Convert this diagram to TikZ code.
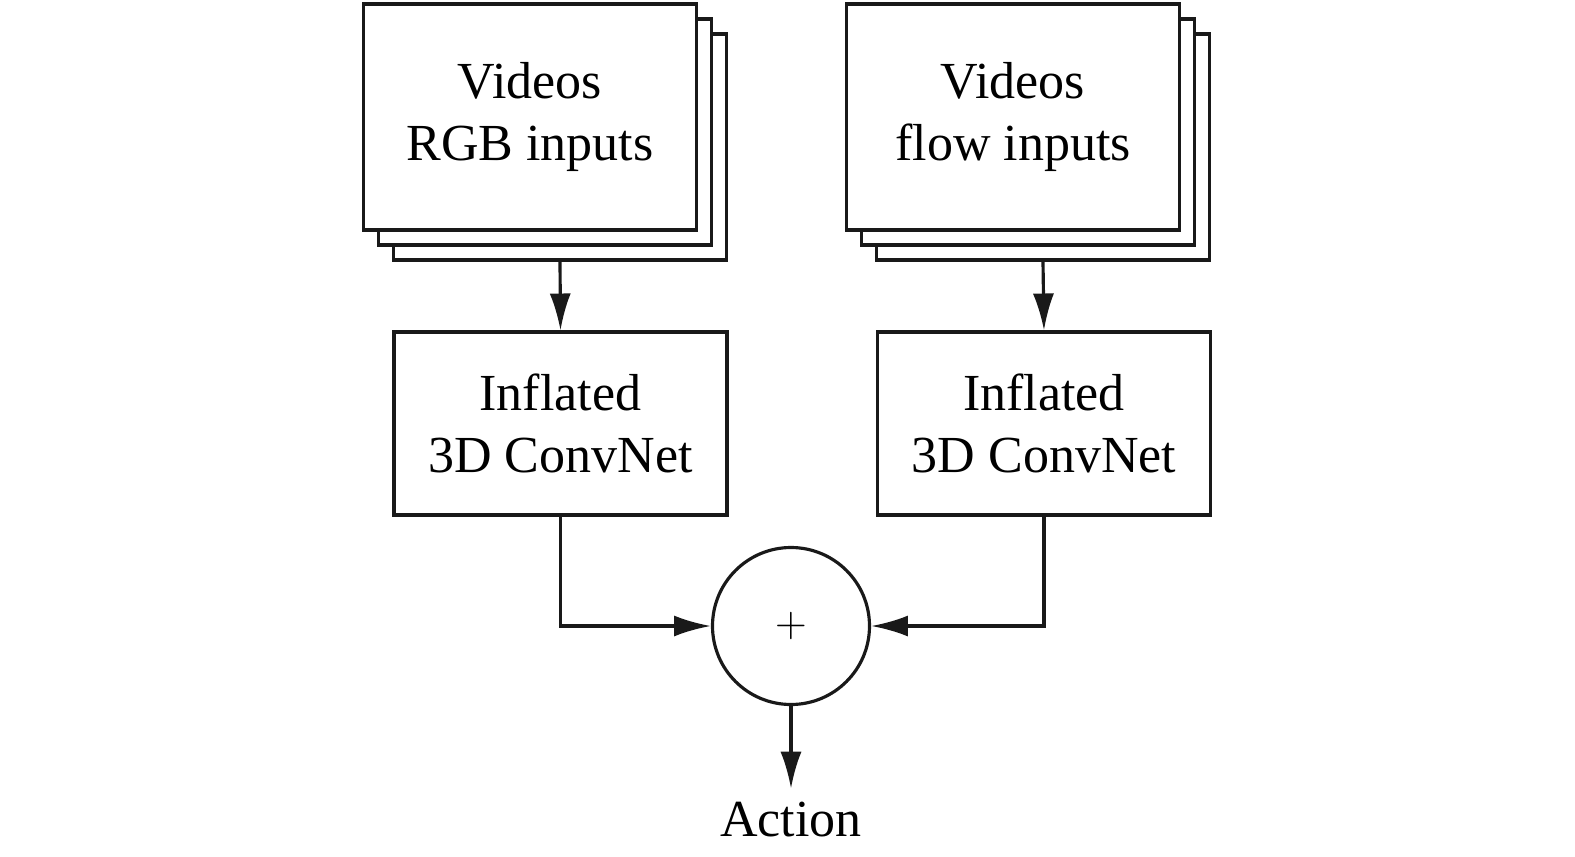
\documentclass[tikz,border=0pt]{standalone}
\usepackage{fontspec}
\setmainfont{Liberation Serif}
\usetikzlibrary{positioning, arrows.meta, shadows, calc}

\begin{document}
\begin{tikzpicture}[
    stack/.style={rectangle, draw=black!90, fill=white, line width=0.9pt,
                  minimum width=3.33cm, minimum height=2.26cm, align=center,
                  font=\fontsize{14.8}{17.6}\selectfont,
                  double copy shadow={shadow xshift=0.15cm, shadow yshift=-0.15cm}},
    box/.style={rectangle, draw=black!90, line width=0.9pt,
                minimum width=3.33cm, minimum height=1.83cm, align=center,
                font=\fontsize{14.8}{17.6}\selectfont},
    sum/.style={circle, draw=black!90, line width=0.9pt, minimum size=1.57cm,
                inner sep=0pt, font=\fontsize{12.5}{12.5}\selectfont},
    arr/.style={-{Latex[length=10.5pt, width=6pt]}, line width=0.9pt, black!90},
    lbl/.style={font=\fontsize{14.8}{17.6}\selectfont, inner sep=3.5pt}
]
\useasboundingbox (0,0) rectangle (15.75,8.56);

\node[stack] (rgb)  at (5.30, 7.39)  {Videos\\RGB inputs};
\node[stack] (flow) at (10.13, 7.39) {Videos\\flow inputs};

\node[box] (icnA) at (5.605, 4.325) {Inflated\\3D ConvNet};
\node[box] (icnB) at (10.44, 4.325) {Inflated\\3D ConvNet};

\node[sum] (add) at (7.91, 2.30) {$+$};

\node[lbl, anchor=base] (action) at (7.91, 0.20) {Action};

\draw[arr] ([shift={(0.3,-0.3)}]rgb.south)  -- (icnA.north);
\draw[arr] ([shift={(0.3,-0.3)}]flow.south) -- (icnB.north);
\draw[arr] (icnA.south) |- (add.west);
\draw[arr] (icnB.south) |- (add.east);
\draw[arr] (add.south) -- (action.north);

\end{tikzpicture}
\end{document}
